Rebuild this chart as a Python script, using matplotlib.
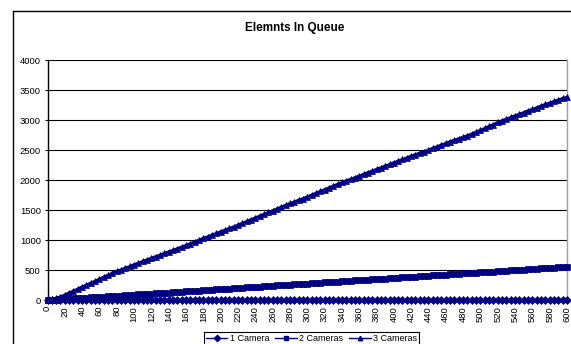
import matplotlib
matplotlib.use("Agg")
import matplotlib.pyplot as plt
from matplotlib.lines import Line2D

plt.rcParams['font.family'] = ['Liberation Sans', 'DejaVu Sans']

# Simulation time steps (every 5 units)
time_steps = list(range(0, 601, 5))

one_camera = [
    0, 0, 0, 0, 0, 0, 0, 0, 0, 0, 0,
    0, 0, 0, 0, 0, 0, 0, 0, 0, 0, 0,
    0, 0, 0, 0, 0, 0, 0, 0, 0, 0, 0,
    0, 0, 0, 0, 0, 0, 0, 0, 0, 0, 0,
    0, 0, 0, 0, 0, 0, 0, 0, 0, 0, 0,
    0, 0, 0, 0, 0, 0, 0, 0, 0, 0, 0,
    0, 0, 0, 0, 0, 0, 0, 0, 0, 0, 0,
    0, 0, 0, 0, 0, 0, 0, 0, 0, 0, 0,
    0, 0, 0, 0, 0, 0, 0, 0, 0, 0, 0,
    0, 0, 0, 0, 0, 0, 0, 0, 0, 0, 0,
    0, 0, 0, 0, 0, 0, 0, 0, 0, 0, 0,
]

two_cameras = [
    0, 3, 8, 12, 17, 21, 26, 30, 35, 39, 44, 48, 53, 57, 62, 66, 71, 75, 80, 84,
    89, 93, 98, 102, 107, 111, 116, 120, 125, 130, 134, 139, 144, 148, 153, 158,
    162, 167, 172, 176, 181, 186, 190, 195, 200, 204, 209, 214, 218, 223, 228,
    232, 237, 242, 246, 251, 256, 260, 265, 270, 274, 279, 284, 288, 293, 298,
    302, 307, 312, 316, 321, 326, 330, 335, 340, 344, 349, 354, 358, 363, 368,
    372, 377, 382, 386, 391, 396, 400, 405, 410, 414, 419, 424, 428, 433, 438,
    442, 447, 452, 456, 461, 466, 470, 475, 480, 484, 489, 494, 498, 503, 508,
    512, 517, 522, 526, 531, 536, 540, 545, 550, 554,
]

three_cameras = [
    0, 5, 30, 55, 85, 120, 150, 185, 220, 250, 285, 315, 350, 385, 415, 450, 480,
    505, 535, 560, 590, 615, 645, 670, 700, 725, 750, 780, 805, 830, 855, 885,
    910, 940, 970, 1000, 1030, 1055, 1085, 1110, 1140, 1165, 1195, 1220, 1250,
    1280, 1310, 1340, 1370, 1400, 1430, 1460, 1490, 1520, 1550, 1580, 1610,
    1635, 1665, 1690, 1720, 1750, 1780, 1810, 1840, 1870, 1900, 1930, 1960,
    1985, 2015, 2040, 2070, 2095, 2125, 2150, 2180, 2205, 2235, 2260, 2290,
    2315, 2345, 2370, 2400, 2425, 2450, 2475, 2500, 2530, 2555, 2585, 2610,
    2640, 2665, 2690, 2715, 2740, 2770, 2800, 2830, 2860, 2895, 2925, 2960,
    2990, 3015, 3045, 3070, 3100, 3125, 3155, 3180, 3205, 3235, 3260, 3285,
    3310, 3335, 3360, 3380,
]

series_names = ["1 Camera", "2 Cameras", "3 Cameras"]
x_tick_labels = [str(v) for v in range(0, 601, 20)]
y_tick_labels = [str(v) for v in range(0, 4001, 500)]

W, H = 571, 344
fig = plt.figure(figsize=(W / 100, H / 100), dpi=100)
ax = fig.add_axes([47.5 / W, 1 - 300 / H, (567 - 47.5) / W, 240 / H])

navy = "#000080"
styles = [("D", 4.2), ("s", 4.2), ("^", 4.8)]
handles = []
for name, vals, (mk, ms) in zip(series_names, [one_camera, two_cameras, three_cameras], styles):
    ax.plot(time_steps, vals, color=navy, lw=2.0, marker=mk, markersize=ms,
            markerfacecolor=navy, markeredgecolor=navy, markeredgewidth=0.5,
            clip_on=False, zorder=3)
    handles.append(Line2D([], [], color=navy, lw=1.0, marker=mk, markersize=3.2,
                          markerfacecolor=navy, markeredgecolor=navy, label=name))

ax.set_xlim(0, 600)
ax.set_ylim(0, 4000)
ax.set_xticks([int(t) for t in x_tick_labels])
ax.set_xticklabels(x_tick_labels, rotation=90, fontsize=6.8)
ax.set_yticks([int(t) for t in y_tick_labels])
ax.set_yticklabels(y_tick_labels, fontsize=6.8)
ax.tick_params(axis='x', length=0, pad=4.3)
ax.tick_params(axis='y', length=2.5, width=0.8, pad=2.3, direction='out')

ax.grid(axis='y', color='black', lw=0.8)
ax.set_axisbelow(True)
ax.spines['top'].set_visible(False)
ax.spines['left'].set_color('black')
ax.spines['left'].set_linewidth(1.0)
ax.spines['bottom'].set_color('black')
ax.spines['right'].set_color('#a0a0a0')
ax.spines['right'].set_linewidth(1.0)

fig.text(294.5 / W, 1 - 28 / H, "Elemnts In Queue", ha='center', va='center',
         fontsize=8.5, fontweight='bold')

# chart frame
fx, fy = 12.5 / W, 1 - 10.7 / H
fig.add_artist(Line2D([fx, fx], [0, fy], transform=fig.transFigure, color='black', lw=1.0))
fig.add_artist(Line2D([fx, 1], [fy, fy], transform=fig.transFigure, color='black', lw=1.0))

leg = ax.legend(handles=handles, loc='upper center', bbox_to_anchor=(311.5 / W, 1 - 332 / H),
                bbox_transform=fig.transFigure, ncol=3, fontsize=6.5,
                frameon=True, fancybox=False, edgecolor='black', framealpha=1,
                borderpad=0.25, handlelength=2.4, handletextpad=0.3,
                columnspacing=0.6, borderaxespad=0)
leg.get_frame().set_linewidth(0.8)

fig.savefig("out.png", dpi=100)
